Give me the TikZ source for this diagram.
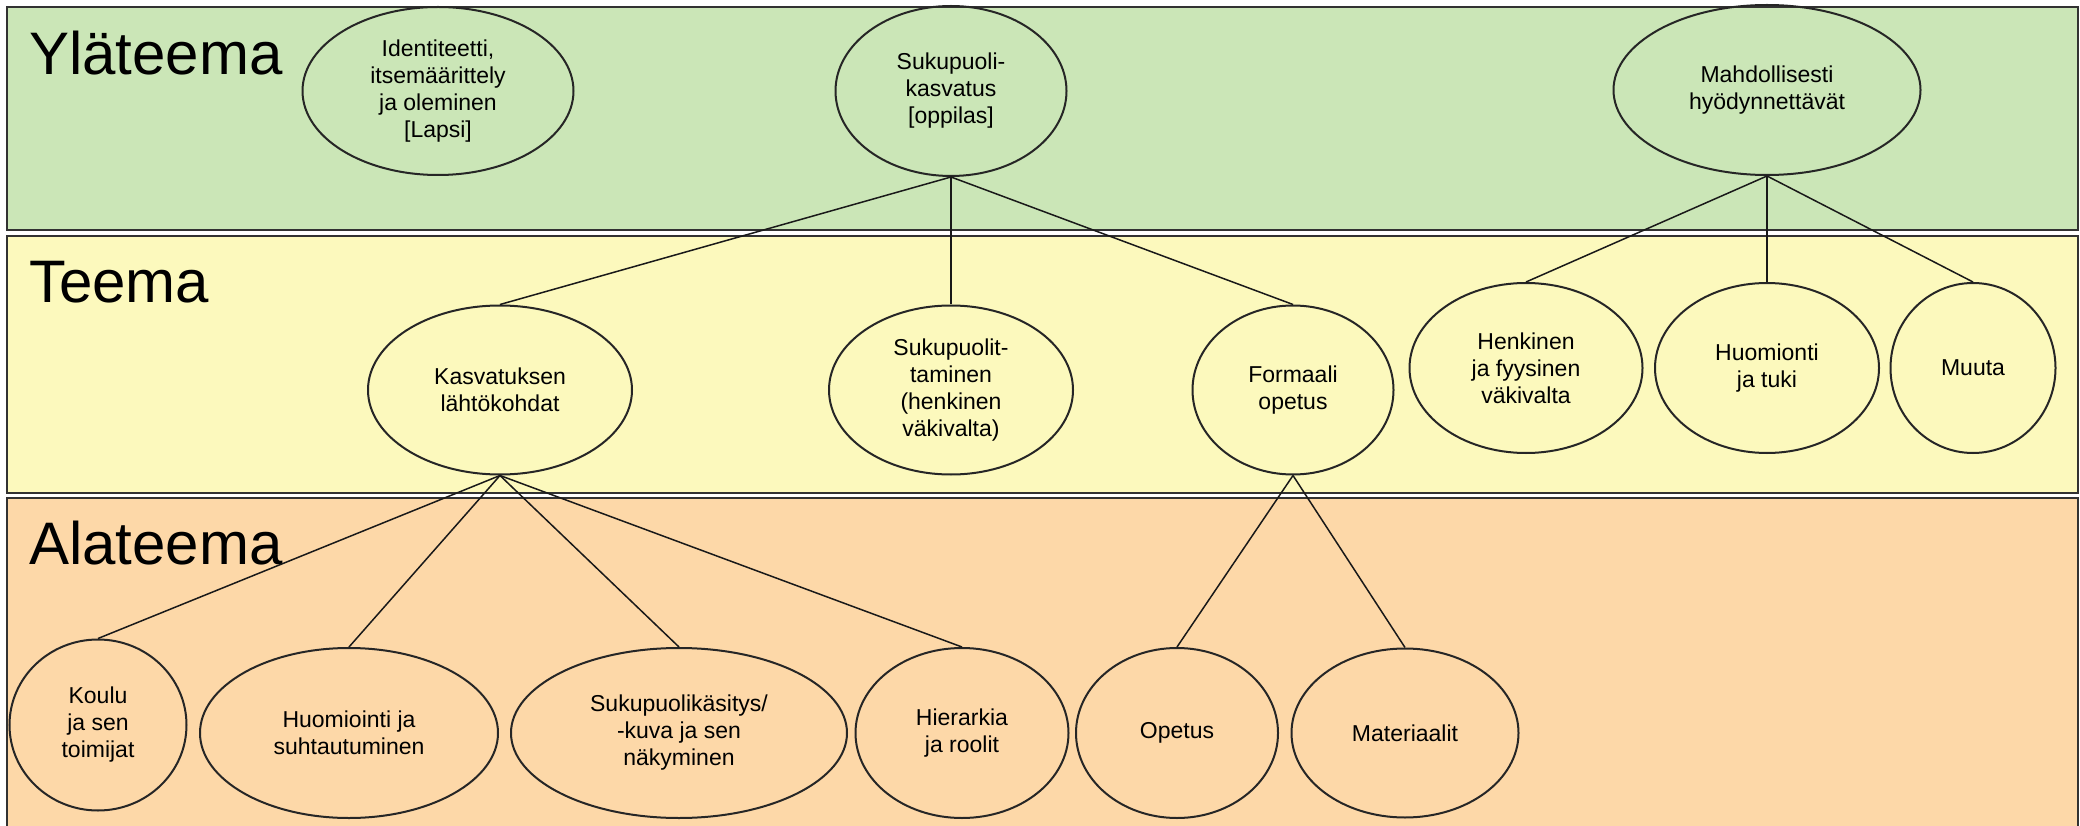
\documentclass[tikz,border=0pt]{standalone}
\usepackage{fontspec}
\setmainfont{Liberation Sans}
\usetikzlibrary{shapes.geometric}
\definecolor{bandgreen}{RGB}{203,230,183}
\definecolor{bandyellow}{RGB}{252,249,189}
\definecolor{bandorange}{RGB}{253,216,168}
\definecolor{bandline}{RGB}{50,50,50}
\begin{document}
\begin{tikzpicture}[x=1pt,y=-1pt,
  band/.style={draw=bandline,line width=2.5pt},
  bandtitle/.style={anchor=base west,inner sep=0pt,font=\fontsize{60}{72}\selectfont},
  topic/.style={ellipse,draw=black!85,line width=2pt,inner sep=0pt,align=center,
    font=\fontsize{23}{27}\selectfont},
  link/.style={line width=1.5pt,black!90}]
\useasboundingbox (0,0) rectangle (2080,826);
\clip (0,0) rectangle (2080,826);
\fill[white] (0,0) rectangle (2080,826);

% level bands
\path[band,fill=bandgreen]  (7,7)   rectangle (2078,230);
\path[band,fill=bandyellow] (7,236) rectangle (2078,493);
\path[band,fill=bandorange] (7,498) rectangle (2078,840);

\node[bandtitle] (t1) at (29,75)  {Yläteema};
\node[bandtitle] (t2) at (29,303) {Teema};
\node[bandtitle] (t3) at (29,564) {Alateema};

% top level
\node[topic,minimum width=271pt,minimum height=168pt] (ident) at (438,91)
  {Identiteetti,\\itsemäärittely\\ja oleminen\\{[Lapsi]}};
\node[topic,minimum width=231pt,minimum height=170pt] (sukup) at (951,91)
  {Sukupuoli-\\kasvatus\\{[oppilas]}};
\node[topic,minimum width=307pt,minimum height=170pt] (mahd) at (1767,90)
  {Mahdollisesti\\hyödynnettävät};

% themes
\node[topic,minimum width=264pt,minimum height=169pt] (kasv) at (500,390)
  {Kasvatuksen\\lähtökohdat};
\node[topic,minimum width=244pt,minimum height=169pt] (sukt) at (951,390)
  {Sukupuolit-\\taminen\\(henkinen\\väkivalta)};
\node[topic,minimum width=201pt,minimum height=169pt] (form) at (1293,390)
  {Formaali\\opetus};
\node[topic,minimum width=233pt,minimum height=170pt] (henk) at (1526,368)
  {Henkinen\\ja fyysinen\\väkivalta};
\node[topic,minimum width=224pt,minimum height=170pt] (huot) at (1767,368)
  {Huomionti\\ja tuki};
\node[topic,minimum width=165pt,minimum height=170pt] (muut) at (1973,368)
  {Muuta};

% sub-themes
\node[topic,minimum width=177pt,minimum height=171pt] (koul) at (98,725)
  {Koulu\\ja sen\\toimijat};
\node[topic,minimum width=298pt,minimum height=170pt] (huom) at (349,733)
  {Huomiointi ja\\suhtautuminen};
\node[topic,minimum width=336pt,minimum height=170pt] (kasi) at (679,733)
  {Sukupuolikäsitys/\\-kuva ja sen\\näkyminen};
\node[topic,minimum width=213pt,minimum height=170pt] (hier) at (962,733)
  {Hierarkia\\ja roolit};
\node[topic,minimum width=202pt,minimum height=170pt] (opet) at (1177,733)
  {Opetus};
\node[topic,minimum width=227pt,minimum height=169pt] (mate) at (1405,733)
  {Materiaalit};

% connectors
\draw[link] (sukup.south) -- (kasv.north);
\draw[link] (sukup.south) -- (sukt.north);
\draw[link] (sukup.south) -- (form.north);
\draw[link] (mahd.south) -- (henk.north);
\draw[link] (mahd.south) -- (huot.north);
\draw[link] (mahd.south) -- (muut.north);
\draw[link] (kasv.south) -- (koul.north);
\draw[link] (kasv.south) -- (huom.north);
\draw[link] (kasv.south) -- (kasi.north);
\draw[link] (kasv.south) -- (hier.north);
\draw[link] (form.south) -- (opet.north);
\draw[link] (form.south) -- (mate.north);
\end{tikzpicture}
\end{document}
